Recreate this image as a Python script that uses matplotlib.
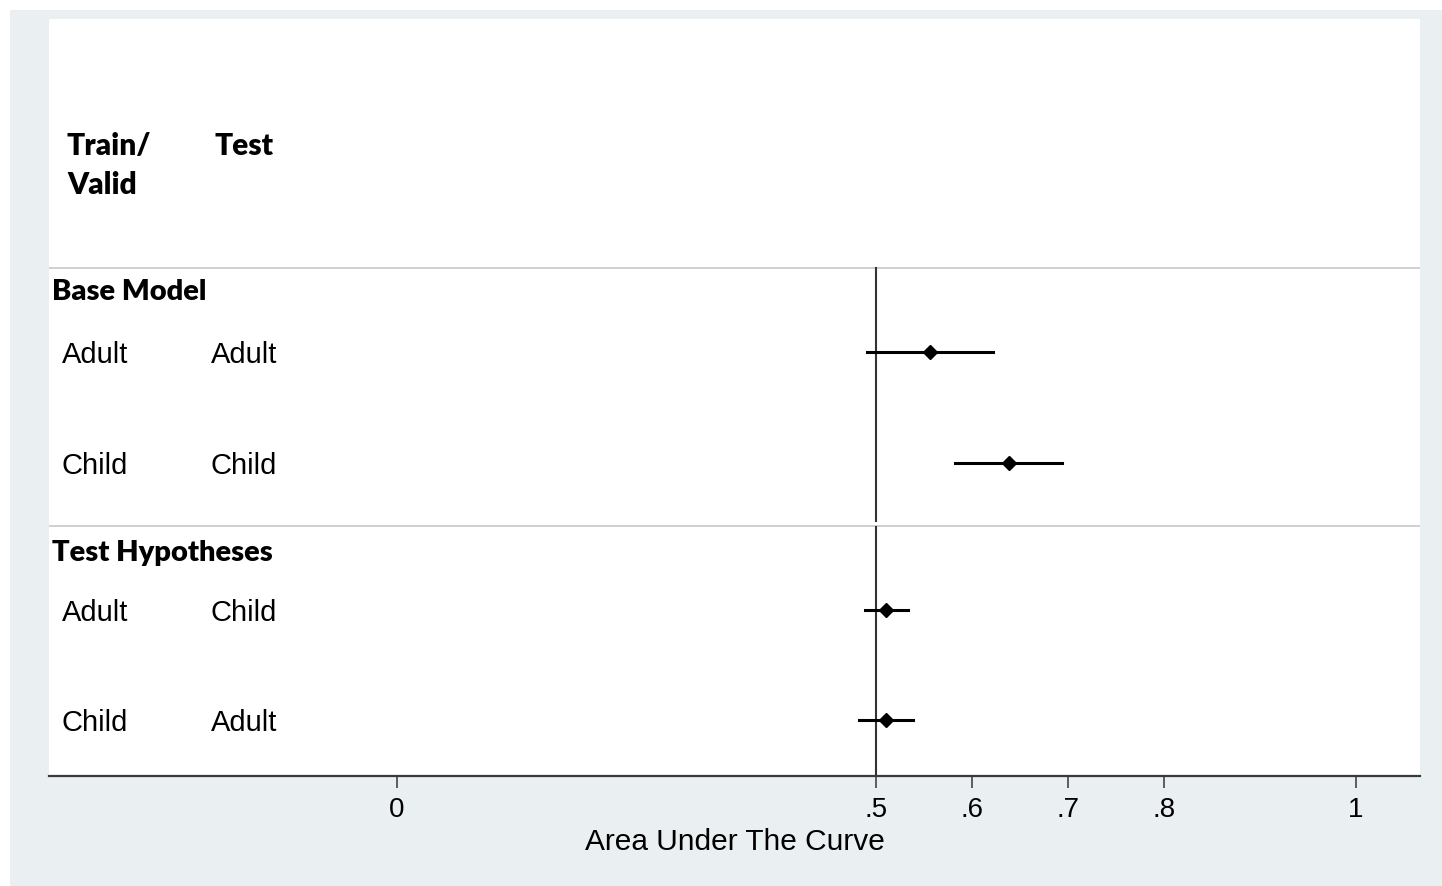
import matplotlib.pyplot as plt
import matplotlib.transforms as mtransforms
from matplotlib.patches import Rectangle

# data
train = ["Adult", "Child", "Adult", "Child"]
test = ["Adult", "Child", "Child", "Adult"]
auc = [0.556, 0.638, 0.510, 0.510]
ci_lo = [0.490, 0.582, 0.488, 0.482]
ci_hi = [0.622, 0.694, 0.533, 0.538]
groups = ["Base Model", "Test Hypotheses"]
xticks = [0, 0.5, 0.6, 0.7, 0.8, 1]
xtick_labels = ["0", ".5", ".6", ".7", ".8", "1"]
ref_line = 0.5

# layout (vertical positions, in pixel-like rows from the top)
row_y = [352, 463, 610, 720]
group_y = [290, 551]
sep_y = [268, 526]
W, H = 1442, 886

sans = ["Liberation Sans", "DejaVu Sans"]
bold = ["Lato", "DejaVu Sans"]

fig = plt.figure(figsize=(W / 100, H / 100), dpi=100)
fig.patch.set_facecolor("white")
fig.patches.append(Rectangle((10 / W, 0), 1, 1 - 10 / H, transform=fig.transFigure,
                             facecolor="#eaeff2", edgecolor="none", zorder=-1))

ax = fig.add_axes([49 / W, 1 - 776 / H, (1420 - 49) / W, (776 - 19) / H])
ax.set_zorder(1)
ax.set_facecolor("white")
ax.set_xlim(-0.363, 1.067)
ax.set_ylim(776, 19)

for s in ["top", "left", "right"]:
    ax.spines[s].set_visible(False)
ax.spines["bottom"].set_color("#3a3a3a")
ax.spines["bottom"].set_linewidth(1.6)
ax.set_yticks([])
ax.set_xticks(xticks, xtick_labels)
ax.tick_params(axis="x", length=8.5, width=1.2, color="#444444", pad=6.5,
               labelsize=20)
for lab in ax.get_xticklabels():
    lab.set_family(sans)
ax.set_xlabel("Area Under The Curve", fontsize=21.5, family=sans, labelpad=4)

# separators and reference line
for y in sep_y:
    ax.axhline(y, color="#c8c8c8", lw=1.2, zorder=1)
ax.plot([ref_line, ref_line], [sep_y[0], sep_y[1] - 5], color="#333333", lw=1.5)
ax.plot([ref_line, ref_line], [sep_y[1] + 1, 776], color="#333333", lw=1.5)

# estimates with confidence intervals
for i in range(len(auc)):
    ax.plot([ci_lo[i], ci_hi[i]], [row_y[i], row_y[i]], color="black", lw=2.2, zorder=3)
    ax.plot(auc[i], row_y[i], marker="D", color="black", markersize=7.5, zorder=4)

tr = mtransforms.blended_transform_factory(ax.transAxes, ax.transData)
x1, x2 = 0.0093, 0.118
for i in range(len(auc)):
    ax.text(x1, row_y[i] + 11, train[i], transform=tr, fontsize=21, family=sans,
            va="baseline", ha="left")
    ax.text(x2, row_y[i] + 11, test[i], transform=tr, fontsize=21, family=sans,
            va="baseline", ha="left")
for g, y in zip(groups, group_y):
    ax.text(0.0022, y + 10, g, transform=tr, fontsize=21, family=bold,
            fontweight="heavy", va="baseline", ha="left")

ax.text(0.0131, 155, "Train/", transform=tr, fontsize=21.5, family=bold,
        fontweight="heavy", va="baseline", ha="left")
ax.text(0.0131, 194, "Valid", transform=tr, fontsize=21.5, family=bold,
        fontweight="heavy", va="baseline", ha="left")
ax.text(0.121, 155, "Test", transform=tr, fontsize=21.5, family=bold,
        fontweight="heavy", va="baseline", ha="left")

fig.savefig("out.png", dpi=100, facecolor=fig.get_facecolor())
